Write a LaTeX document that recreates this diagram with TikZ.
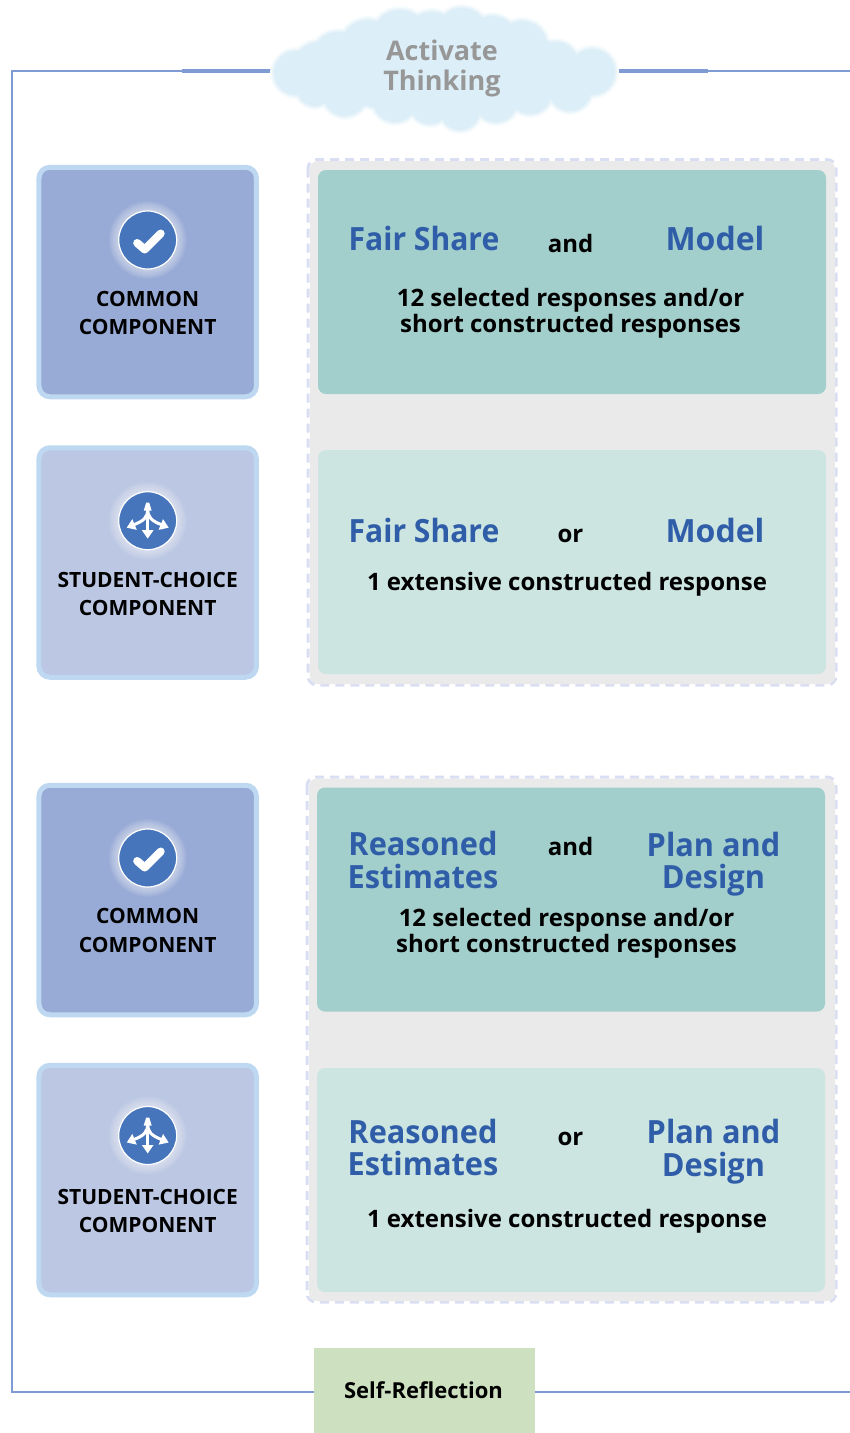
\documentclass[tikz,border=0pt]{standalone}
\usepackage{fontspec}
\setmainfont{Open Sans}
\usetikzlibrary{backgrounds,arrows.meta}
\definecolor{frameblue}{HTML}{7F9BD3}
\definecolor{borderblue}{HTML}{BDD8F0}
\definecolor{commonfill}{HTML}{98ABD6}
\definecolor{choicefill}{HTML}{BCC7E3}
\definecolor{graypanel}{HTML}{EAEAEA}
\definecolor{dashblue}{HTML}{DADEF2}
\definecolor{tealdark}{HTML}{A2CECB}
\definecolor{teallight}{HTML}{CCE5E1}
\definecolor{headblue}{HTML}{2F5DA8}
\definecolor{iconblue}{HTML}{4775BC}
\definecolor{cloudblue}{HTML}{DCEEF8}
\definecolor{cloudsoft}{HTML}{E9F4FA}
\definecolor{cloudfaint}{HTML}{F6FBFD}
\definecolor{selfgreen}{HTML}{CDE0BF}
\definecolor{greytext}{HTML}{979797}
\tikzset{
  x=1pt,y=-1pt,
  sidebox/.style={rounded corners=11pt,draw=borderblue,line width=5pt,inner sep=0pt,minimum width=217.5pt,minimum height=229.5pt},
  panelfill/.style={rounded corners=8pt,fill=graypanel},
  paneldash/.style={rounded corners=9pt,draw=dashblue,line width=3pt,dash pattern=on 9pt off 6pt},
  cardbox/.style={rounded corners=8pt,inner sep=0pt,minimum width=508pt,minimum height=224pt},
  head/.style={font=\fontsize{32}{32.5}\selectfont\bfseries\addfontfeature{FakeStretch=0.96},text=headblue,align=center,inner sep=0pt},
  headfair/.style={head,font=\fontsize{32}{32.5}\selectfont\bfseries\addfontfeature{FakeStretch=0.94}},
  headmodel/.style={head,font=\fontsize{32}{32.5}\selectfont\bfseries},
  joiner/.style={font=\fontsize{24}{24}\selectfont\bfseries,text=black,inner sep=0pt},
  body/.style={font=\fontsize{24}{26}\selectfont\bfseries,text=black,align=center,inner sep=0pt},
  sidetext/.style={font=\fontsize{21}{28.5}\selectfont\bfseries,text=black,align=center,inner sep=0pt},
  iconball/.style={circle,fill=iconblue,draw=white,line width=1.2pt,minimum size=58pt,inner sep=0pt},
  frameline/.style={draw=frameblue,line width=2.4pt},
  framethick/.style={draw=frameblue,line width=4pt},
  glyph/.style={draw=white,fill=none,line cap=round,line join=round},
  forkarrow/.style={white,line width=3pt,-{Triangle[length=8.5pt,width=11pt]}},
}
\newcommand{\glowat}[2]{%
  \foreach \rr in {39,38,...,30}{\fill[white,opacity=0.06] (#1,#2) circle[radius=\rr pt];}}
\newcommand{\checkicon}[3]{%
  \glowat{#2}{#3}
  \node[iconball] (#1) at (#2,#3) {};
  \draw[glyph,line width=8pt] ([shift={(-10.5,3)}]#1.center) -- ([shift={(-3,9.5)}]#1.center) -- ([shift={(13,-6.5)}]#1.center);}
\newcommand{\forkicon}[3]{%
  \glowat{#2}{#3}
  \node[iconball] (#1) at (#2,#3) {};
  \draw[forkarrow] ([shift={(0,-12)}]#1.center) -- ([shift={(0,18)}]#1.center);
  \draw[forkarrow] ([shift={(0,-12)}]#1.center) .. controls ([shift={(0,-3)}]#1.center) and ([shift={(-4,0)}]#1.center) .. ([shift={(-21,7)}]#1.center);
  \draw[forkarrow] ([shift={(0,-12)}]#1.center) .. controls ([shift={(0,-3)}]#1.center) and ([shift={(4,0)}]#1.center) .. ([shift={(21,7)}]#1.center);
  \fill[white] ([shift={(-4,-10)}]#1.center) -- ([shift={(-1.5,-18)}]#1.center) -- ([shift={(1.5,-18)}]#1.center) -- ([shift={(4,-10)}]#1.center) -- cycle;}
\newcommand{\cloudlayer}[2]{%
  \foreach \cx/\cy/\cr in {296/73/24,320/70/30,338/58/28,368/48/30,400/38/30,432/40/30,462/34/28,492/42/28,522/46/27,556/64/24,592/72/25,570/90/23,530/92/24,496/100/24,460/110/22,430/104/22,395/100/24,345/94/24,315/88/20}{
    \fill[#2] (\cx,\cy) circle[radius=\cr+#1];}
  \fill[#2] (445,70) ellipse[x radius=138+#1,y radius=46+#1];}
\begin{document}
\begin{tikzpicture}
\useasboundingbox (0,0) rectangle (850,1433);
% cloud
\cloudlayer{2}{cloudfaint}
\cloudlayer{0}{cloudsoft}
\cloudlayer{-2}{cloudblue}
\node[font=\fontsize{27}{30}\selectfont\bfseries,text=greytext,align=center,inner sep=0pt] (cloud) at (442,68) {Activate\\Thinking};
% self reflection
\node[fill=selfgreen,minimum width=221pt,minimum height=85pt,inner sep=0pt,font=\fontsize{22}{22}\selectfont\bfseries,text=black] (self) at (424.5,1390.5) {\hspace*{-2pt}\raisebox{-2.5pt}{Self-Reflection}};
% frame
\coordinate (tl) at (12,71);
\coordinate (bl) at (12,1392);
\coordinate (tr) at (851,71);
\coordinate (br) at (851,1392);
\coordinate (cl) at (400,71);
\coordinate (cr) at (500,71);
\coordinate (sl) at (400,1392);
\coordinate (sr) at (450,1392);
\coordinate (tla) at (182,71);
\coordinate (tra) at (708,71);
\begin{scope}[on background layer]
  \draw[frameline,line join=miter] (cl) -- (tl) -- (bl) -- (sl);
  \draw[frameline] (cr) -- (tr);
  \draw[frameline] (sr) -- (br);
  \draw[framethick] (tla) -- (cl);
  \draw[framethick] (cr) -- (tra);
\end{scope}
% group panels
\draw[paneldash] (308,159.5) rectangle (836,685);
\fill[panelfill] (310,161) rectangle (835,684);
\draw[paneldash] (307,777) rectangle (836,1302);
\fill[panelfill] (309,778.5) rectangle (835,1301);
\node[cardbox,fill=tealdark] (cardA) at (572,282) {};
\node[cardbox,fill=teallight] (cardB) at (572,562) {};
\node[cardbox,fill=tealdark] (cardC) at (571,899.5) {};
\node[cardbox,fill=teallight] (cardD) at (571,1180) {};
% side boxes
\node[sidebox,fill=commonfill] (sideA) at (147.7,282) {};
\node[sidebox,fill=choicefill] (sideB) at (147.7,562.5) {};
\node[sidebox,fill=commonfill] (sideC) at (147.7,900) {};
\node[sidebox,fill=choicefill] (sideD) at (147.7,1180) {};
\checkicon{iconA}{147.7}{240}
\forkicon{iconB}{147.7}{520.7}
\checkicon{iconC}{147.7}{858}
\forkicon{iconD}{147.7}{1135.5}
\node[sidetext] (labA) at (147.7,313) {COMMON\\COMPONENT};
\node[sidetext] (labB) at (147.7,594) {STUDENT-CHOICE\\COMPONENT};
\node[sidetext] (labC) at (147.7,930.5) {COMMON\\COMPONENT};
\node[sidetext] (labD) at (147.7,1211) {STUDENT-CHOICE\\COMPONENT};
% card A
\node[headfair] (a1) at (424,238) {Fair Share};
\node[joiner] (a2) at (570.5,243) {and};
\node[headmodel] (a3) at (715,238.5) {Model};
\node[body] (a4) at (570.5,313.5) {12 selected responses and/or\\short constructed responses};
% card B
\node[headfair] (b1) at (424,530) {Fair Share};
\node[joiner] (b2) at (570.5,536) {or};
\node[headmodel] (b3) at (715,530.5) {Model};
\node[body] (b4) at (567,584.5) {1 extensive constructed response};
% card C
\node[head] (c1) at (423,860) {Reasoned\\Estimates};
\node[joiner] (c2) at (570.5,846) {and};
\node[head] (c3) at (713.5,864) {Plan and\\Design};
\node[body] (c4) at (566.5,933.5) {12 selected response and/or\\short constructed responses};
% card D
\node[head] (d1) at (423,1147.5) {Reasoned\\Estimates};
\node[joiner] (d2) at (570.5,1139) {or};
\node[head] (d3) at (713.5,1151.5) {Plan and\\Design};
\node[body] (d4) at (567,1221.5) {1 extensive constructed response};
\end{tikzpicture}
\end{document}
